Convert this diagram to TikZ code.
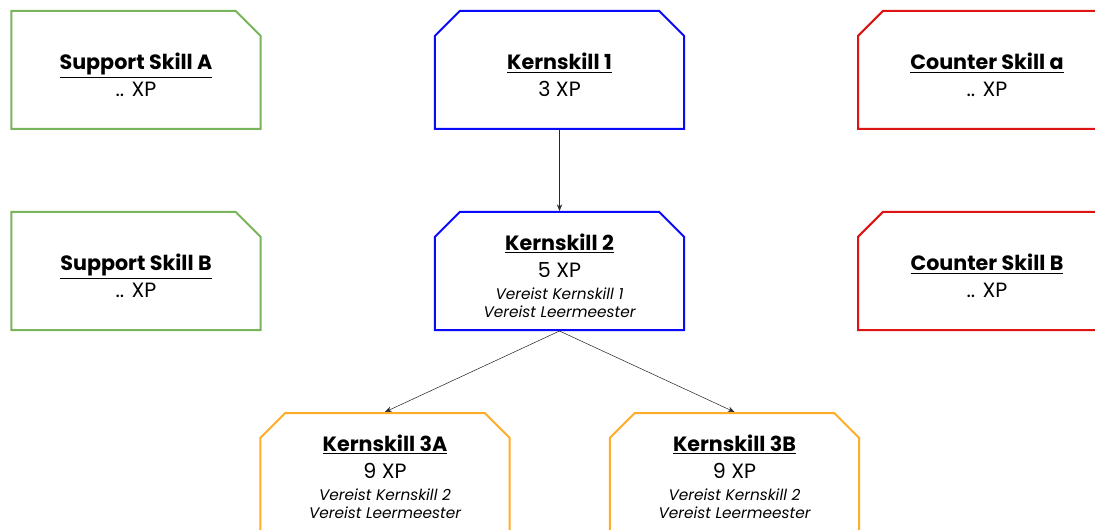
\documentclass[tikz,border=0pt]{standalone}
\usepackage{fontspec}
\setmainfont{Poppins}
\usetikzlibrary{calc,
shapes.misc,
arrows.meta}

\definecolor{supgreen}{RGB}{120,180,90}
\definecolor{coreblue}{RGB}{10,10,250}
\definecolor{cntrred}{RGB}{220,20,20}
\definecolor{nextorange}{RGB}{255,172,40}
\definecolor{arrowgray}{RGB}{40,40,40}

\newcommand{\skilltitle}[1]{\rule{0pt}{20pt}\textbf{\underline{#1}}}
\newcommand{\vereist}[1]{{\fontsize{11.5}{13.5}\selectfont\itshape #1}}

\begin{document}
\begin{tikzpicture} [x = 0.75pt,
    y = 0.75pt,
    -{Stealth[length=5pt, width=4pt]},
    every node/.style={font={\fontsize{15.5}{20}\selectfont}},
    skill node/.style={chamfered rectangle, draw, fill = white,
        line width = 1.5pt, align = center,
        minimum width = 187pt, minimum height = 88.5pt,
        chamfered rectangle xsep = 15pt}
  ]

  \useasboundingbox (0, 0) rectangle (1095, 529);

  \node [skill node,
    draw = supgreen,
    chamfered rectangle corners = {north east}
  ] (supa) at (136, 459) {\skilltitle{Support Skill A}\\ .. XP};
  \node [skill node,
    draw = supgreen,
    chamfered rectangle corners = {north east}
  ] (supb) at (136, 258) {\skilltitle{Support Skill B}\\ .. XP};

  \node [skill node,
    draw = coreblue,
    chamfered rectangle corners = {north west, north east}
  ] (core1) at (559.5, 459) {\skilltitle{Kernskill 1}\\ 3 XP};
  \node [skill node,
    draw = coreblue,
    chamfered rectangle corners = {north west, north east}
  ] (core2) at (559.5, 258) {\skilltitle{Kernskill 2}\\ 5 XP\\[-3pt]
    \vereist{Vereist Kernskill 1}\\[-6.5pt] \vereist{Vereist Leermeester}};

  \node [skill node,
    draw = cntrred,
    minimum width = 193.5pt,
    chamfered rectangle corners = {north west}
  ] (cntra) at (987, 459) {\skilltitle{Counter Skill a}\\ .. XP};
  \node [skill node,
    draw = cntrred,
    minimum width = 193.5pt,
    chamfered rectangle corners = {north west}
  ] (cntrb) at (987, 258) {\skilltitle{Counter Skill B}\\ .. XP};

  \node [skill node,
    draw = nextorange,
    chamfered rectangle corners = {north west, north east}
  ] (core3a) at (385, 57) {\skilltitle{Kernskill 3A}\\ 9 XP\\[-3pt]
    \vereist{Vereist Kernskill 2}\\[-6.5pt] \vereist{Vereist Leermeester}};
  \node [skill node,
    draw = nextorange,
    chamfered rectangle corners = {north west, north east}
  ] (core3b) at (734.5, 57) {\skilltitle{Kernskill 3B}\\ 9 XP\\[-3pt]
    \vereist{Vereist Kernskill 2}\\[-6.5pt] \vereist{Vereist Leermeester}};

  \draw [arrowgray] (core1.south) -- (core2.north);
  \draw [arrowgray] (core2.south) -- (core3a.north);
  \draw [arrowgray] (core2.south) -- (core3b.north);

\end{tikzpicture}
\end{document}
